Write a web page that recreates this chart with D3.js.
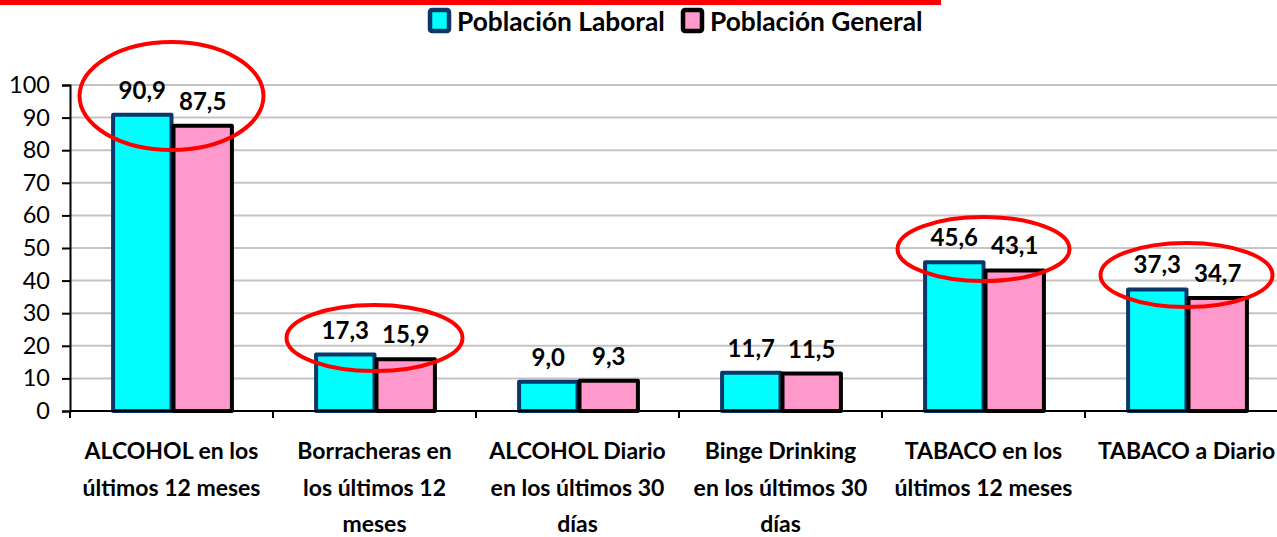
<!DOCTYPE html>
<html>
<head>
<meta charset="utf-8">
<script src="https://cdn.jsdelivr.net/npm/d3@7"></script>
<style>
  html, body { margin: 0; padding: 0; background: #fff; overflow: hidden; }
  svg { display: block; font-family: Lato, "Open Sans", sans-serif; }
</style>
</head>
<body>
<svg id="chart" width="1277" height="537"></svg>
<script>
// Prevalence of consumption (%), working population vs general population
const categories = [
  ["ALCOHOL en los", "últimos 12 meses"],
  ["Borracheras en", "los últimos 12", "meses"],
  ["ALCOHOL Diario", "en los últimos 30", "días"],
  ["Binge Drinking", "en los últimos 30", "días"],
  ["TABACO en los", "últimos 12 meses"],
  ["TABACO a Diario"]
];
const seriesNames = ["Población Laboral", "Población General"];
const laboral = [90.9, 17.3, 9.0, 11.7, 45.6, 37.3];
const general = [87.5, 15.9, 9.3, 11.5, 43.1, 34.7];
const yTicks = [0, 10, 20, 30, 40, 50, 60, 70, 80, 90, 100];

// Highlight ellipses: category index, centre value, radii in px
const highlightCat = [0, 1, 4, 5];
const highlightVal = [96.6, 22.4, 49.7, 41.7];
const highlightRx = [92, 88, 86, 86];
const highlightRy = [54, 33, 32, 32];

const fills = ["#00FFFF", "#FF99CC"];
const strokes = ["#0B3868", "#000000"];
const values = [laboral, general];

const svg = d3.select("#chart");
const plotLeft = 70, plotRight = 1288, plotTop = 85, plotBottom = 411;

const x0 = d3.scaleBand().domain(d3.range(categories.length)).range([plotLeft, plotRight]);
const x1 = d3.scaleBand().domain(d3.range(seriesNames.length))
  .range([0, x0.bandwidth()]).paddingInner(0).paddingOuter(0.68);
const y = d3.scaleLinear().domain([0, 100]).range([plotBottom, plotTop]);

// Red rule across the top
svg.append("rect").attr("x", 0).attr("y", 0).attr("width", 941).attr("height", 5).attr("fill", "#FF0000");

// Gridlines
svg.append("g").selectAll("line").data(yTicks.filter(d => d > 0)).join("line")
  .attr("x1", plotLeft).attr("x2", plotRight)
  .attr("y1", d => y(d)).attr("y2", d => y(d))
  .attr("stroke", "#c4c4c4").attr("stroke-width", 2);

// Y axis
const yAxis = svg.append("g").attr("transform", `translate(${plotLeft},0)`)
  .call(d3.axisLeft(y).tickValues(yTicks).tickSize(8).tickPadding(12).tickFormat(d3.format("d")));
yAxis.select(".domain").attr("stroke", "#000").attr("stroke-width", 2);
yAxis.selectAll(".tick line").attr("stroke", "#000").attr("stroke-width", 2);
yAxis.selectAll(".tick text").attr("font-size", 23.5).attr("fill", "#000")
  .attr("font-family", "Lato, sans-serif");

// Bars
values.forEach((vals, s) => {
  svg.append("g").selectAll("rect").data(vals).join("rect")
    .attr("x", (d, i) => x0(i) + x1(s) + 2)
    .attr("width", x1.bandwidth() - 2)
    .attr("y", d => y(d))
    .attr("height", d => plotBottom - y(d))
    .attr("fill", fills[s]).attr("stroke", strokes[s]).attr("stroke-width", 4)
    .attr("stroke-linejoin", "round");
});

// X axis
const xAxisG = svg.append("g");
xAxisG.append("line").attr("x1", plotLeft).attr("x2", plotRight).attr("y1", plotBottom).attr("y2", plotBottom)
  .attr("stroke", "#000").attr("stroke-width", 2);
xAxisG.selectAll("line.tk").data(d3.range(categories.length + 1)).join("line").attr("class", "tk")
  .attr("x1", i => plotLeft + i * x0.step()).attr("x2", i => plotLeft + i * x0.step())
  .attr("y1", plotBottom).attr("y2", plotBottom + 7)
  .attr("stroke", "#000").attr("stroke-width", 2);

// Category labels
const catG = svg.append("g").attr("font-size", 23).attr("font-weight", "bold").attr("fill", "#000")
  .attr("text-anchor", "middle");
categories.forEach((lines, i) => {
  const t = catG.append("text").attr("x", x0(i) + x0.bandwidth() / 2).attr("y", 459);
  lines.forEach((ln, k) => t.append("tspan").attr("x", x0(i) + x0.bandwidth() / 2)
    .attr("dy", k === 0 ? 0 : 36.5).text(ln));
});

// Value labels
const fmt = v => v.toFixed(1).replace(".", ",");
values.forEach((vals, s) => {
  svg.append("g").selectAll("text").data(vals).join("text")
    .attr("x", (d, i) => x0(i) + x1(s) + x1.bandwidth() / 2 + 1)
    .attr("y", d => y(d) - 16)
    .attr("text-anchor", "middle").attr("font-size", 24).attr("font-weight", "bold")
    .attr("fill", "#000").text(fmt);
});

// Highlight ellipses
svg.append("g").selectAll("ellipse").data(highlightCat).join("ellipse")
  .attr("cx", (c, k) => x0(c) + x0.bandwidth() / 2)
  .attr("cy", (c, k) => y(highlightVal[k]))
  .attr("rx", (c, k) => highlightRx[k]).attr("ry", (c, k) => highlightRy[k])
  .attr("fill", "none").attr("stroke", "#FF0000").attr("stroke-width", 4);

// Legend
const legend = svg.append("g").attr("font-size", 26.3).attr("font-weight", "bold");
const legendX = [430, 683];
seriesNames.forEach((name, s) => {
  legend.append("rect").attr("x", legendX[s]).attr("y", 10).attr("width", 19).attr("height", 21)
    .attr("rx", 2).attr("fill", fills[s]).attr("stroke", strokes[s]).attr("stroke-width", 4.5);
  legend.append("text").attr("x", legendX[s] + 27).attr("y", 31).attr("fill", "#000").text(name);
});
</script>
</body>
</html>
